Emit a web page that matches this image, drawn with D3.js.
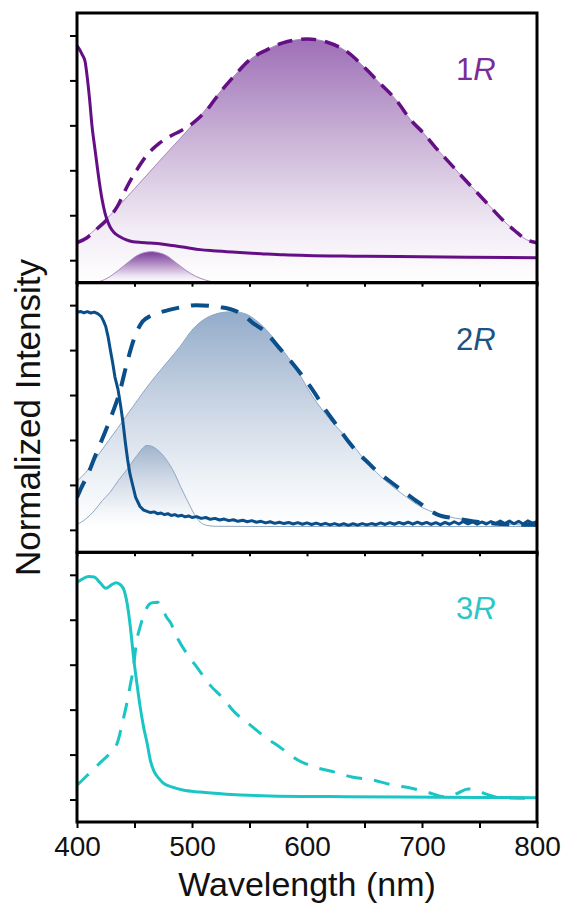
<!DOCTYPE html>
<html>
<head>
<meta charset="utf-8">
<script src="https://cdn.jsdelivr.net/npm/d3@7"></script>
<style>
  body { margin: 0; background: #fff; }
  svg { display: block; font-family: 'Liberation Sans', Arial, sans-serif; }
</style>
</head>
<body>
<svg id="chart" width="565" height="906"></svg>
<script>
// Axis ticks
var wavelengthTicks = [400, 450, 500, 550, 600, 650, 700, 750, 800];
var intensityTicks = [0, 0.2, 0.4, 0.6, 0.8, 1.0];
var panelNames = ['1', '2', '3'];

// 1R: absorption (solid), emission (dashed), gaussian fit components
var abs1R = [[400,0.955],[402,0.94],[404.5,0.915],[407,0.885],[409,0.81],[411,0.713],[413,0.6],[415.7,0.491],[418,0.4],[420,0.327],[422,0.265],[424.3,0.211],[426.5,0.175],[428.7,0.149],[432,0.124],[437.4,0.104],[443,0.09],[448.7,0.082],[456,0.079],[463.5,0.077],[470,0.074],[478,0.069],[485,0.064],[492,0.059],[500,0.052],[507,0.047],[518,0.042],[530,0.038],[545,0.033],[560,0.029],[580,0.024],[600,0.021],[640,0.018],[680,0.016],[740,0.013],[800,0.011]];
var em1R = [[400,0.078],[408.7,0.1],[417,0.138],[426,0.18],[435,0.238],[443.5,0.327],[452,0.402],[461,0.469],[472,0.522],[481,0.552],[490,0.575],[501,0.611],[513,0.669],[524,0.744],[539,0.833],[550,0.891],[565,0.936],[579,0.967],[590,0.98],[600,0.984],[610,0.98],[617,0.971],[635,0.927],[652,0.847],[663,0.789],[678,0.71],[690,0.625],[701,0.567],[712,0.5],[724,0.433],[736,0.366],[748,0.3],[759,0.24],[770,0.18],[781,0.13],[791,0.091],[800,0.078]];
var fitMain1R = [[400,0.069],[425,0.18],[450,0.318],[475,0.46],[500,0.6],[515,0.69],[527,0.765],[539,0.833],[550,0.891],[565,0.936],[579,0.967],[590,0.98],[600,0.984],[610,0.98],[617,0.971],[635,0.927],[652,0.847],[663,0.789],[678,0.71],[690,0.625],[701,0.567],[712,0.5],[724,0.433],[736,0.366],[748,0.3],[759,0.24],[770,0.18],[781,0.13],[791,0.091],[800,0.078]];
var fitSmall1R = [[412,-0.1],[420,-0.094],[428,-0.075],[436,-0.045],[445,-0.007],[452,0.02],[458,0.033],[465,0.038],[472,0.032],[478,0.02],[485,-0.007],[492,-0.035],[499,-0.06],[507,-0.08],[515,-0.093],[525,-0.1]];

// 2R
var abs2R = [[400,0.968],[403,0.972],[406,0.966],[409,0.971],[412,0.965],[415,0.969],[418,0.962],[421,0.95],[423,0.93],[425,0.905],[427,0.86],[429,0.8],[431,0.744],[433,0.68],[435.7,0.624],[438,0.55],[440,0.478],[442,0.39],[444,0.313],[446,0.25],[448.7,0.193],[451,0.145],[454.8,0.104],[458,0.088],[461,0.082],[464,0.077],[467,0.08],[470,0.072],[473,0.075],[476,0.068],[479,0.072],[482,0.064],[485,0.068],[488,0.061],[491,0.065],[494,0.058],[497,0.062],[500,0.055],[504,0.059],[508,0.051],[512,0.055],[516,0.047],[520,0.051],[524,0.044],[528,0.048],[532,0.041],[536,0.045],[540,0.038],[544,0.043],[548,0.036],[552,0.041],[556,0.034],[560,0.038],[564,0.031],[568,0.036],[572,0.029],[576,0.034],[580,0.028],[584,0.033],[588,0.026],[592,0.032],[596,0.025],[600,0.031],[604,0.024],[608,0.03],[612,0.023],[616,0.029],[620,0.022],[624,0.028],[628,0.021],[632,0.027],[636,0.02],[640,0.027],[644,0.021],[648,0.028],[652,0.022],[656,0.028],[660,0.023],[664,0.031],[668,0.024],[672,0.032],[676,0.025],[680,0.033],[684,0.026],[688,0.034],[692,0.025],[696,0.034],[700,0.026],[704,0.033],[708,0.024],[712,0.032],[716,0.023],[720,0.033],[724,0.025],[728,0.036],[732,0.026],[736,0.037],[740,0.027],[744,0.036],[748,0.025],[752,0.035],[756,0.026],[760,0.037],[764,0.027],[768,0.039],[772,0.028],[776,0.039],[780,0.027],[784,0.038],[788,0.026],[792,0.04],[796,0.03],[800,0.036]];
var em2R = [[400,0.144],[404,0.19],[408.7,0.238],[417,0.344],[424,0.43],[431,0.522],[437,0.611],[443.5,0.744],[450,0.856],[457,0.927],[464,0.952],[472,0.967],[481,0.98],[490,0.99],[504,1.0],[515,0.997],[524,0.991],[536,0.978],[545,0.955],[553,0.92],[562,0.889],[576,0.809],[585,0.756],[600,0.658],[605,0.622],[617,0.527],[624,0.478],[636,0.393],[644,0.344],[653,0.3],[661,0.26],[670,0.224],[685,0.167],[697,0.122],[713,0.069],[730,0.05],[745,0.037],[760,0.03],[780,0.024],[800,0.022]];
var fitMain2R = [[400,0.216],[410,0.27],[420,0.344],[435,0.45],[448.7,0.549],[463,0.65],[478,0.744],[489.6,0.816],[501,0.895],[510,0.935],[518,0.956],[527,0.968],[536,0.971],[548,0.958],[555,0.935],[562,0.904],[576.5,0.816],[591,0.713],[605,0.593],[620,0.491],[636,0.402],[650,0.313],[664,0.238],[681,0.167],[700,0.1],[722,0.06],[750,0.038],[775,0.025],[800,0.02]];
var fitSmall2R = [[400,0.024],[408,0.05],[415,0.085],[422,0.13],[428.7,0.167],[436,0.22],[443.5,0.269],[452,0.33],[461,0.376],[469,0.36],[478,0.31],[485,0.25],[490,0.193],[496,0.13],[502,0.07],[507,0.035],[513,0.02],[520,0.016],[560,0.015],[800,0.015]];

// 3R
var abs3R = [[400,0.967],[405,0.982],[410,0.993],[415,0.99],[420,0.965],[425,0.94],[430,0.955],[434,0.965],[438,0.955],[441,0.93],[444,0.86],[447,0.74],[449,0.64],[452,0.52],[455,0.41],[458,0.32],[461,0.25],[464,0.17],[467,0.125],[471,0.095],[475,0.073],[483,0.055],[492,0.042],[507,0.033],[530,0.024],[568,0.016],[620,0.013],[681,0.011],[800,0.008]];
var em3R = [[400,0.064],[405,0.088],[411,0.118],[420,0.163],[428.7,0.207],[435,0.251],[440,0.353],[443,0.42],[446,0.5],[448.7,0.576],[452,0.709],[454.8,0.767],[458,0.82],[461,0.856],[465,0.875],[470,0.878],[474,0.85],[478,0.81],[481,0.79],[487,0.722],[496.5,0.642],[505,0.584],[515.7,0.509],[526,0.456],[537,0.389],[548.7,0.34],[563.5,0.278],[576.5,0.233],[592,0.176],[607,0.144],[624,0.122],[639,0.1],[657,0.087],[675,0.064],[690,0.051],[707,0.029],[715,0.016],[722,0.012],[731,0.028],[740,0.047],[748,0.04],[756,0.024],[768,0.008],[785,0.006],[800,0.006]];

// Chart settings
var margin = { top: 13, right: 28, bottom: 84, left: 77 };
var svg = d3.select('#chart');
var width = +svg.attr('width') - margin.left - margin.right;
var height = +svg.attr('height') - margin.top - margin.bottom;
var panelH = height / 3;

var panels = [
  { name: panelNames[0], abs: abs1R, em: em1R, fits: [fitMain1R, fitSmall1R], noisy: false,
    color: '#650f86', label: '#7a2d98', fitLine: '#a888bd',
    stops: [['#9e6fb7', '#c9b2d6', '#f2ecf5', '#ffffff'], ['#7a3d9a', '#b38fc6', '#eee5f2', '#ffffff']],
    base: -0.1, dash: '15,9', emWidth: 3.5 },
  { name: panelNames[1], abs: abs2R, em: em2R, fits: [fitMain2R, fitSmall2R], noisy: true,
    color: '#0b4f8a', label: '#1a5384', fitLine: '#90a7c3',
    stops: [['#93acca', '#c6d2e2', '#eef2f7', '#ffffff'], ['#a0b3cd', '#cfd9e6', '#f1f4f8', '#ffffff']],
    base: 0.015, dash: '18,12', emWidth: 4 },
  { name: panelNames[2], abs: abs3R, em: em3R, fits: [], noisy: false,
    color: '#1cc5c5', label: '#2cc6c9', fitLine: null, stops: [],
    base: -0.1, dash: '16,12', emWidth: 3 }
];
var stopOffsets = ['0%', '40%', '78%', '100%'];

var xScale = d3.scaleLinear().domain([400, 800]).range([0, width]);
var yScale = d3.scaleLinear().domain([-0.1, 1.1]).range([panelH, 0]);

var defs = svg.append('defs');
var plot = svg.append('g')
  .attr('transform', 'translate(' + margin.left + ',' + margin.top + ')');

panels.forEach(function (p, i) {

  var g = plot.append('g')
    .attr('transform', 'translate(0,' + (i * panelH) + ')');

  defs.append('clipPath')
      .attr('id', 'clip' + i)
    .append('rect')
      .attr('width', width)
      .attr('height', panelH);

  var inner = g.append('g').attr('clip-path', 'url(#clip' + i + ')');

  var line = d3.line()
    .x(function (d) { return xScale(d[0]); })
    .y(function (d) { return yScale(d[1]); })
    .curve(d3.curveMonotoneX);

  var area = d3.area()
    .x(function (d) { return xScale(d[0]); })
    .y0(yScale(p.base))
    .y1(function (d) { return yScale(d[1]); })
    .curve(d3.curveMonotoneX);

  // Gaussian components with gradient fill
  p.fits.forEach(function (fit, k) {
    var gid = 'grad' + i + '_' + k;
    var grad = defs.append('linearGradient')
      .attr('id', gid)
      .attr('x1', 0).attr('y1', 0).attr('x2', 0).attr('y2', 1);
    p.stops[k].forEach(function (c, s) {
      grad.append('stop').attr('offset', stopOffsets[s]).attr('stop-color', c);
    });

    inner.append('path')
      .datum(fit)
      .attr('d', area)
      .attr('fill', 'url(#' + gid + ')');

    inner.append('path')
      .datum(fit)
      .attr('d', line)
      .attr('fill', 'none')
      .attr('stroke', p.fitLine)
      .attr('stroke-width', 1);
  });

  // Emission (dashed)
  inner.append('path')
    .datum(p.em)
    .attr('d', line)
    .attr('fill', 'none')
    .attr('stroke', p.color)
    .attr('stroke-width', p.emWidth)
    .attr('stroke-dasharray', p.dash);

  // Absorption (solid)
  inner.append('path')
    .datum(p.abs)
    .attr('d', p.noisy ? line.curve(d3.curveLinear) : line)
    .attr('fill', 'none')
    .attr('stroke', p.color)
    .attr('stroke-width', 3)
    .attr('stroke-linejoin', 'round');

  // Axes
  var yAxis = d3.axisLeft(yScale)
    .tickValues(intensityTicks)
    .tickSize(7)
    .tickFormat('');

  g.append('g')
    .attr('class', 'axis')
    .call(yAxis)
    .call(function (a) { a.select('.domain').remove(); })
    .selectAll('line')
      .attr('stroke-width', 2);

  var last = i === panels.length - 1;
  var xAxis = d3.axisBottom(xScale)
    .tickValues(wavelengthTicks)
    .tickSize(last ? 6 : 4)
    .tickPadding(8)
    .tickFormat(function (d) { return (last && d % 100 === 0) ? d : ''; });

  var xa = g.append('g')
    .attr('transform', 'translate(0,' + panelH + ')')
    .call(xAxis);
  xa.select('.domain').remove();
  xa.selectAll('line').attr('stroke-width', 2);
  xa.selectAll('text')
    .attr('font-size', 28)
    .attr('font-family', "'Liberation Sans', Arial, sans-serif")
    .attr('fill', '#111');

  // Frame
  g.append('rect')
    .attr('width', width)
    .attr('height', panelH)
    .attr('fill', 'none')
    .attr('stroke', '#000')
    .attr('stroke-width', 3);

  // Sample label
  var lab = g.append('text')
    .attr('x', 379)
    .attr('y', 67)
    .attr('font-size', 31)
    .attr('fill', p.label);
  lab.append('tspan').text(p.name);
  lab.append('tspan').attr('font-style', 'italic').text('R');
});

// Axis titles
svg.append('text')
  .attr('x', margin.left + width / 2)
  .attr('y', 896)
  .attr('text-anchor', 'middle')
  .attr('font-size', 34)
  .attr('fill', '#111')
  .text('Wavelength (nm)');

svg.append('text')
  .attr('transform', 'rotate(-90)')
  .attr('x', -(margin.top + height / 2))
  .attr('y', 40)
  .attr('text-anchor', 'middle')
  .attr('font-size', 35)
  .attr('fill', '#111')
  .text('Normalized Intensity');
</script>
</body>
</html>
